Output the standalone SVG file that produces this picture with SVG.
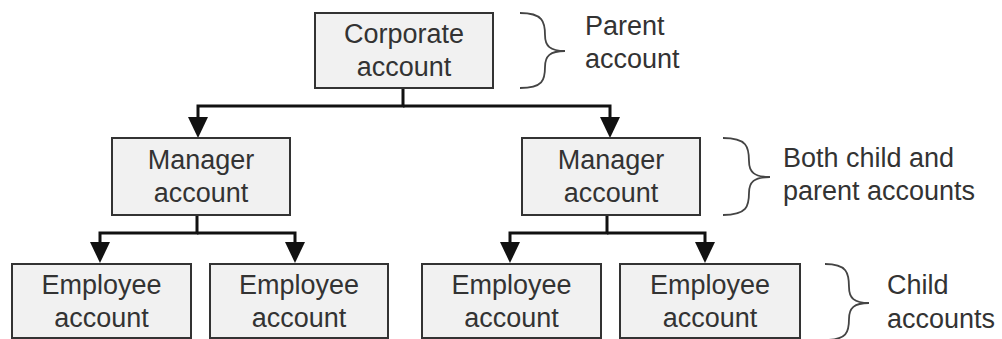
<svg xmlns="http://www.w3.org/2000/svg" width="1002" height="339" viewBox="0 0 1002 339">
<style>
.box{fill:#f1f1f1;stroke:#333;stroke-width:2}
.t{font-family:"Liberation Sans",Arial,sans-serif;font-size:27px;fill:#333}
.c{text-anchor:middle}
.conn{fill:none;stroke:#111;stroke-width:3;stroke-linejoin:miter}
.brace{fill:none;stroke:#444;stroke-width:1.8}
</style>
<defs>
<marker id="ah" markerUnits="userSpaceOnUse" markerWidth="21" markerHeight="20" viewBox="0 0 21 20" refX="11" refY="10" orient="auto">
<path d="M0,0 L21,10 L0,20 Z" fill="#111"/>
</marker>
</defs>
<rect width="1002" height="339" fill="#fff"/>
<g id="connectors">
<path class="conn" d="M403,88 V106 H198 V128" marker-end="url(#ah)"/>
<path class="conn" d="M403,106 H610 V128" marker-end="url(#ah)"/>
<path class="conn" d="M197,215 V233 H100 V253" marker-end="url(#ah)"/>
<path class="conn" d="M197,233 H295 V253" marker-end="url(#ah)"/>
<path class="conn" d="M607,215 V233 H510 V253" marker-end="url(#ah)"/>
<path class="conn" d="M607,233 H705 V253" marker-end="url(#ah)"/>
</g>
<g id="corporate">
<rect class="box" x="315" y="13" width="178" height="75"/>
<text class="t c" x="404" y="43">Corporate</text>
<text class="t c" x="404" y="76">account</text>
</g>
<g id="manager-left">
<rect class="box" x="112" y="138" width="178" height="77"/>
<text class="t c" x="201" y="169">Manager</text>
<text class="t c" x="201" y="202">account</text>
</g>
<g id="manager-right">
<rect class="box" x="522" y="138" width="178" height="77"/>
<text class="t c" x="611" y="169">Manager</text>
<text class="t c" x="611" y="202">account</text>
</g>
<g id="employee-1">
<rect class="box" x="12" y="264" width="179" height="74"/>
<text class="t c" x="101.5" y="294">Employee</text>
<text class="t c" x="101.5" y="327">account</text>
</g>
<g id="employee-2">
<rect class="box" x="210" y="264" width="178" height="74"/>
<text class="t c" x="299" y="294">Employee</text>
<text class="t c" x="299" y="327">account</text>
</g>
<g id="employee-3">
<rect class="box" x="422" y="264" width="179" height="74"/>
<text class="t c" x="511.5" y="294">Employee</text>
<text class="t c" x="511.5" y="327">account</text>
</g>
<g id="employee-4">
<rect class="box" x="620" y="264" width="180" height="74"/>
<text class="t c" x="710" y="294">Employee</text>
<text class="t c" x="710" y="327">account</text>
</g>
<g id="label-parent">
<path class="brace" d="M520,13 C543,13 545,22 545,35 C545,46 550,51 565,51 M565,51 C550,51 545,56 545,67 C545,80 543,88 520,88"/>
<text class="t" x="585" y="35">Parent</text>
<text class="t" x="585" y="68">account</text>
</g>
<g id="label-both">
<path class="brace" d="M723,138 C747,138 749,147 749,161 C749,172 754,177 770,177 M770,177 C754,177 749,182 749,193 C749,206 747,215 723,215"/>
<text class="t" x="783" y="167">Both child and</text>
<text class="t" x="783" y="200">parent accounts</text>
</g>
<g id="label-child">
<path class="brace" d="M825,264 C847,264 849,273 849,287 C849,298 854,303 869,303 M869,303 C854,303 849,308 849,319 C849,332 847,340 825,340"/>
<text class="t" x="887" y="294">Child</text>
<text class="t" x="887" y="328">accounts</text>
</g>
</svg>
